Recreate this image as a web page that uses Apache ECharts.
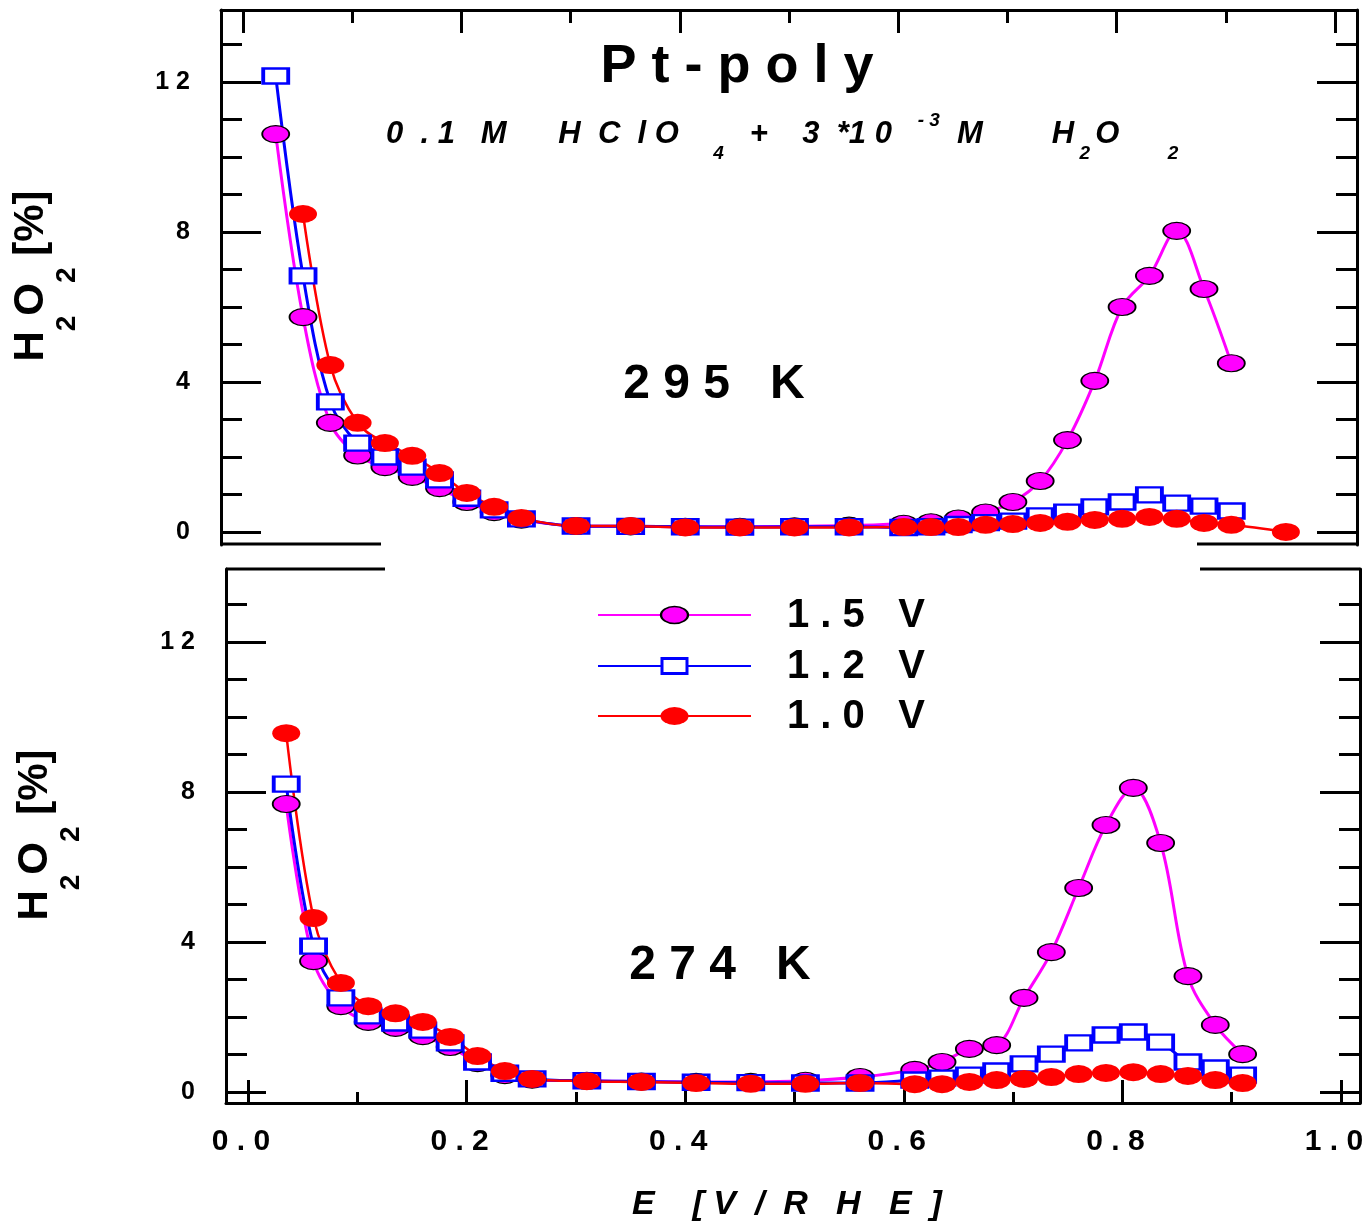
<!DOCTYPE html>
<html>
<head>
<meta charset="utf-8">
<title>Pt-poly H2O2 yield</title>
<script src="https://cdn.jsdelivr.net/npm/echarts@6/dist/echarts.min.js"></script>
<style>
  html, body { margin: 0; padding: 0; background: #fff; }
  #chart { width: 1368px; height: 1232px; }
</style>
</head>
<body>
<div id="chart"></div>
<script>
// Electrode potential E [V/RHE] of each sample
const eTop = [0.030, 0.055, 0.080, 0.105, 0.130, 0.155, 0.180, 0.205, 0.230, 0.255,
              0.305, 0.355, 0.405, 0.455, 0.505, 0.555,
              0.605, 0.630, 0.655, 0.680, 0.705, 0.730, 0.755, 0.780, 0.805, 0.830, 0.855, 0.880, 0.905];
const eTopRed = [0.055, 0.080, 0.105, 0.130, 0.155, 0.180, 0.205, 0.230, 0.255,
                 0.305, 0.355, 0.405, 0.455, 0.505, 0.555,
                 0.605, 0.630, 0.655, 0.680, 0.705, 0.730, 0.755, 0.780, 0.805, 0.830, 0.855, 0.880, 0.905, 0.955];
const eBottom = [0.035, 0.060, 0.085, 0.110, 0.135, 0.160, 0.185, 0.210, 0.235, 0.260,
                 0.310, 0.360, 0.410, 0.460, 0.510, 0.560,
                 0.610, 0.635, 0.660, 0.685, 0.710, 0.735, 0.760, 0.785, 0.810, 0.835, 0.860, 0.885, 0.910];

// H2O2 yield [%] at 295 K
const top15 = [10.61, 5.73, 2.91, 2.04, 1.73, 1.47, 1.17, 0.80, 0.53, 0.33,
               0.16, 0.15, 0.14, 0.14, 0.15, 0.17,
               0.22, 0.26, 0.36, 0.52, 0.80, 1.36, 2.45, 4.03, 6.00, 6.83, 8.03, 6.48, 4.50];
const top12 = [12.16, 6.83, 3.47, 2.37, 2.00, 1.73, 1.39, 0.90, 0.59, 0.35,
               0.16, 0.15, 0.14, 0.13, 0.14, 0.14,
               0.12, 0.14, 0.20, 0.25, 0.29, 0.43, 0.53, 0.67, 0.80, 0.99, 0.77, 0.69, 0.56];
const top10 = [8.48, 4.45, 2.91, 2.37, 2.03, 1.57, 1.04, 0.67, 0.37,
               0.16, 0.16, 0.12, 0.12, 0.12, 0.12,
               0.13, 0.13, 0.13, 0.19, 0.21, 0.24, 0.27, 0.32, 0.35, 0.40, 0.35, 0.24, 0.19, 0.00];

// H2O2 yield [%] at 274 K
const bot15 = [7.68, 3.49, 2.29, 1.87, 1.71, 1.49, 1.20, 0.77, 0.45, 0.33,
               0.30, 0.28, 0.27, 0.27, 0.30, 0.40,
               0.59, 0.80, 1.15, 1.25, 2.51, 3.73, 5.44, 7.12, 8.11, 6.64, 3.09, 1.79, 1.01];
const bot12 = [8.21, 3.89, 2.51, 2.03, 1.84, 1.65, 1.31, 0.80, 0.50, 0.35,
               0.30, 0.28, 0.26, 0.25, 0.24, 0.24,
               0.32, 0.37, 0.45, 0.56, 0.75, 1.01, 1.31, 1.52, 1.60, 1.33, 0.80, 0.64, 0.45];
const bot10 = [9.57, 4.64, 2.91, 2.29, 2.10, 1.87, 1.47, 0.96, 0.56, 0.35,
               0.29, 0.27, 0.24, 0.22, 0.22, 0.24,
               0.21, 0.21, 0.27, 0.32, 0.35, 0.40, 0.48, 0.51, 0.53, 0.48, 0.43, 0.32, 0.24];

// Upper potential limits, one curve each
const seriesNames = ['1.5 V', '1.2 V', '1.0 V'];

// Tick positions and labels
const yLabelValues = [0, 4, 8, 12];
const yMinorValues = [1, 2, 3, 5, 6, 7, 9, 10, 11, 13];
const xLabelValues = [0, 0.2, 0.4, 0.6, 0.8, 1.0];
const xMinorValues = [0.1, 0.3, 0.5, 0.7, 0.9];

const SANS = '"Liberation Sans", Arial, sans-serif';
const spaced = s => s.split('').join(' ');
const ELLIPSE = 'path://M0,10A10,10,0,1,1,20,10A10,10,0,1,1,0,10Z';

const looks = {
  '1.5 V': { color: '#ff00ff', symbol: ELLIPSE, symbolSize: [27, 17], lineWidth: 3,
             item: { color: '#ff00ff', borderColor: '#000', borderWidth: 1.5 } },
  '1.2 V': { color: '#0000ff', symbol: 'rect', symbolSize: [25, 15], lineWidth: 3,
             item: { color: '#ffffff', borderColor: '#0000ff', borderWidth: 3 } },
  '1.0 V': { color: '#ff0000', symbol: ELLIPSE, symbolSize: [28, 18], lineWidth: 2.5,
             item: { color: '#ff0000', borderWidth: 0 } }
};

// Panel rectangles (upper: 295 K, lower: 274 K); each has an overlay grid for the long ticks
const gridTop = { left: 221, top: 10, width: 1136, height: 535 };
const gridBot = { left: 226, top: 569, width: 1134, height: 534 };
const xRangeTop = [-0.0201, 1.0201];
const xRangeBot = [-0.0201, 1.0174];
const yRangeTop = [-0.347, 13.92];
const yRangeBot = [-0.293, 13.947];

const black = { color: '#000', width: 3 };

function xAxisDef(grid, pos, range, ticks, len, withLine, withLabels) {
  return {
    gridIndex: grid, type: 'value', position: pos, min: range[0], max: range[1],
    axisLine: { show: withLine, onZero: false, lineStyle: black },
    axisTick: { show: true, inside: true, length: len, customValues: ticks, lineStyle: black },
    axisLabel: withLabels ? {
      show: true, customValues: xLabelValues, margin: 24, padding: [0, 14, 0, 0],
      formatter: v => spaced(v.toFixed(1)),
      color: '#000', fontSize: 30, fontWeight: 'bold', fontFamily: SANS
    } : { show: false },
    splitLine: { show: false }
  };
}

function yAxisDef(grid, pos, range, ticks, len, withLine, withLabels) {
  return {
    gridIndex: grid, type: 'value', position: pos, offset: 0, min: range[0], max: range[1],
    axisLine: { show: withLine, onZero: false, lineStyle: black },
    axisTick: { show: true, inside: true, length: len, customValues: ticks, lineStyle: black },
    axisLabel: withLabels ? {
      show: true, customValues: yLabelValues, margin: 31,
      formatter: v => spaced(String(v)),
      color: '#000', fontSize: 25, fontWeight: 'bold', fontFamily: SANS
    } : { show: false },
    splitLine: { show: false }
  };
}

function lineSeries(name, xs, ys, xi, yi) {
  const lk = looks[name];
  return {
    name, type: 'line', xAxisIndex: xi, yAxisIndex: yi,
    data: xs.map((x, i) => [x, ys[i]]),
    smooth: 0.35, showAllSymbol: true, silent: true,
    symbol: lk.symbol, symbolSize: lk.symbolSize,
    lineStyle: { color: lk.color, width: lk.lineWidth },
    itemStyle: lk.item,
    emphasis: { disabled: true }
  };
}

// Rich-text styles for formulas with sub/superscripts
function richSet(size, subSize, italic, mainPad, subPad, supPad, lh) {
  const base = { fontWeight: 'bold', fontStyle: italic ? 'italic' : 'normal', fontFamily: SANS,
                 fill: '#000', lineHeight: lh, verticalAlign: 'top' };
  return {
    a: Object.assign({}, base, { fontSize: size, padding: [mainPad, 0, 0, 0] }),
    s: Object.assign({}, base, { fontSize: subSize, padding: [subPad, 0, 0, 0] }),
    p: Object.assign({}, base, { fontSize: subSize, padding: [supPad, 0, 0, 0] })
  };
}

function plainText(x, y, text, font, align) {
  return { type: 'text', x, y, z: 10,
           style: { text, font, fill: '#000', align: align || 'center', verticalAlign: 'middle' } };
}

const legendRows = [615, 666, 716];
const legendGraphics = [];
seriesNames.forEach((name, i) => {
  const y = legendRows[i];
  const lk = looks[name];
  legendGraphics.push({ type: 'line', z: 10, shape: { x1: 598, y1: y, x2: 751, y2: y },
                        style: { stroke: lk.color, lineWidth: 2 } });
  if (lk.symbol === 'rect') {
    legendGraphics.push({ type: 'rect', z: 11, shape: { x: 674.5 - 12.5, y: y - 7.5, width: 25, height: 15 },
                          style: { fill: lk.item.color, stroke: lk.item.borderColor, lineWidth: lk.item.borderWidth } });
  } else {
    const h = lk.symbolSize[1] / 2;
    legendGraphics.push({ type: 'circle', z: 11, x: 674.5, y: y, scaleX: lk.symbolSize[0] / lk.symbolSize[1],
                          shape: { cx: 0, cy: 0, r: h },
                          style: { fill: lk.item.color, stroke: lk.item.borderWidth ? lk.item.borderColor : null,
                                   lineWidth: lk.item.borderWidth, strokeNoScale: true } });
  }
  legendGraphics.push(plainText(787, y + 1, spaced(name), 'bold 40px ' + SANS, 'left'));
});

const yTitle = (x, y) => ({
  type: 'text', x, y, rotation: Math.PI / 2, z: 10,
  style: {
    text: '{a|H}{s|2}{a|O}{s|2}{a| [%]}',
    rich: richSet(42, 28, false, 20, 63, 0, 100),
    align: 'center', verticalAlign: 'middle'
  }
});

const option = {
  animation: false,
  backgroundColor: '#fff',
  textStyle: { fontFamily: SANS },
  grid: [
    Object.assign({ outerBoundsMode: 'none' }, gridTop),
    Object.assign({ outerBoundsMode: 'none' }, gridTop),
    Object.assign({ outerBoundsMode: 'none' }, gridBot),
    Object.assign({ outerBoundsMode: 'none' }, gridBot)
  ],
  xAxis: [
    xAxisDef(0, 'top', xRangeTop, xMinorValues, 13, true, false),
    xAxisDef(1, 'top', xRangeTop, xLabelValues, 23, false, false),
    xAxisDef(2, 'bottom', xRangeBot, xMinorValues, 11, true, true),
    xAxisDef(3, 'bottom', xRangeBot, xLabelValues, 23, false, false)
  ],
  yAxis: [
    yAxisDef(0, 'left', yRangeTop, yMinorValues, 21, true, true),
    yAxisDef(0, 'right', yRangeTop, yMinorValues, 21, true, false),
    yAxisDef(1, 'left', yRangeTop, yLabelValues, 40, false, false),
    yAxisDef(1, 'right', yRangeTop, yLabelValues, 40, false, false),
    yAxisDef(2, 'left', yRangeBot, yMinorValues, 21, true, true),
    yAxisDef(2, 'right', yRangeBot, yMinorValues, 21, true, false),
    yAxisDef(3, 'left', yRangeBot, yLabelValues, 40, false, false),
    yAxisDef(3, 'right', yRangeBot, yLabelValues, 40, false, false)
  ],
  series: [
    lineSeries('1.5 V', eTop, top15, 0, 0),
    lineSeries('1.2 V', eTop, top12, 0, 0),
    lineSeries('1.0 V', eTopRed, top10, 0, 0),
    lineSeries('1.5 V', eBottom, bot15, 2, 4),
    lineSeries('1.2 V', eBottom, bot12, 2, 4),
    lineSeries('1.0 V', eBottom, bot10, 2, 4)
  ],
  graphic: [
    // broken edges between the two panels
    { type: 'line', z: 10, shape: { x1: 221, y1: 544, x2: 381, y2: 544 }, style: { stroke: '#000', lineWidth: 3 } },
    { type: 'line', z: 10, shape: { x1: 1197, y1: 544, x2: 1357, y2: 544 }, style: { stroke: '#000', lineWidth: 3 } },
    { type: 'line', z: 10, shape: { x1: 226, y1: 569, x2: 385, y2: 569 }, style: { stroke: '#000', lineWidth: 3 } },
    { type: 'line', z: 10, shape: { x1: 1200, y1: 569, x2: 1360, y2: 569 }, style: { stroke: '#000', lineWidth: 3 } },
    // headings
    plainText(737, 67, spaced('Pt-poly'), 'bold 54px ' + SANS),
    {
      type: 'text', x: 386, y: 134, z: 10,
      style: {
        text: '{a|0  . 1   M      H  C  l O    }{s|4}{a|   +    3  *1 0   }{p|- 3}{a|  M        H}{s| 2 }{a|O     }{s| 2}',
        rich: richSet(31, 19, true, 20, 45, 12, 70),
        align: 'left', verticalAlign: 'middle'
      }
    },
    plainText(714, 385, spaced('295 K'), 'bold 48px ' + SANS),
    plainText(720, 966, spaced('274 K'), 'bold 48px ' + SANS),
    plainText(787, 1205, 'E    [ V  /  R   H   E  ]', 'italic bold 34px ' + SANS),
    yTitle(40, 276),
    yTitle(44, 835)
  ].concat(legendGraphics)
};

const chart = echarts.init(document.getElementById('chart'), null, { renderer: 'canvas' });
chart.setOption(option);
</script>
</body>
</html>
